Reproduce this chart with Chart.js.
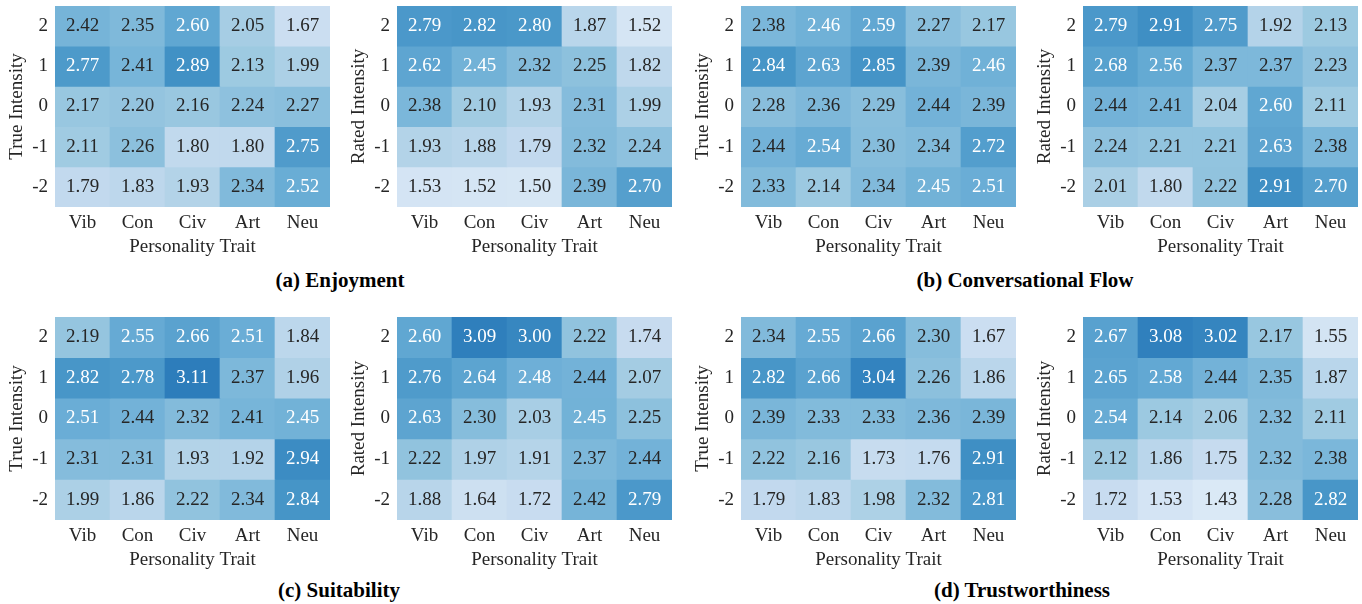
<!DOCTYPE html>
<html>
<head>
<meta charset="utf-8">
<script src="https://cdn.jsdelivr.net/npm/chart.js@4.4.1/dist/chart.umd.min.js"></script>
<style>
  html, body { margin: 0; padding: 0; background: #fff; }
  #fig { position: relative; width: 1362px; height: 604px; overflow: hidden; }
  #fig canvas { position: absolute; }
  .cap {
    position: absolute; height: 30px; line-height: 30px;
    font: bold 21px "Liberation Serif", "Times New Roman", serif;
    color: #000; white-space: nowrap; transform: translateX(-50%);
  }
</style>
</head>
<body>
<div id="fig"></div>
<script>
// Categories and row levels
const traits = ['Vib', 'Con', 'Civ', 'Art', 'Neu'];
const intensities = [2, 1, 0, -1, -2];

// Mean scores, one row per intensity level (2 .. -2), columns follow `traits`
const enjoymentTrue = [
  [2.42, 2.35, 2.60, 2.05, 1.67],
  [2.77, 2.41, 2.89, 2.13, 1.99],
  [2.17, 2.20, 2.16, 2.24, 2.27],
  [2.11, 2.26, 1.80, 1.80, 2.75],
  [1.79, 1.83, 1.93, 2.34, 2.52]
];
const enjoymentRated = [
  [2.79, 2.82, 2.80, 1.87, 1.52],
  [2.62, 2.45, 2.32, 2.25, 1.82],
  [2.38, 2.10, 1.93, 2.31, 1.99],
  [1.93, 1.88, 1.79, 2.32, 2.24],
  [1.53, 1.52, 1.50, 2.39, 2.70]
];
const flowTrue = [
  [2.38, 2.46, 2.59, 2.27, 2.17],
  [2.84, 2.63, 2.85, 2.39, 2.46],
  [2.28, 2.36, 2.29, 2.44, 2.39],
  [2.44, 2.54, 2.30, 2.34, 2.72],
  [2.33, 2.14, 2.34, 2.45, 2.51]
];
const flowRated = [
  [2.79, 2.91, 2.75, 1.92, 2.13],
  [2.68, 2.56, 2.37, 2.37, 2.23],
  [2.44, 2.41, 2.04, 2.60, 2.11],
  [2.24, 2.21, 2.21, 2.63, 2.38],
  [2.01, 1.80, 2.22, 2.91, 2.70]
];
const suitabilityTrue = [
  [2.19, 2.55, 2.66, 2.51, 1.84],
  [2.82, 2.78, 3.11, 2.37, 1.96],
  [2.51, 2.44, 2.32, 2.41, 2.45],
  [2.31, 2.31, 1.93, 1.92, 2.94],
  [1.99, 1.86, 2.22, 2.34, 2.84]
];
const suitabilityRated = [
  [2.60, 3.09, 3.00, 2.22, 1.74],
  [2.76, 2.64, 2.48, 2.44, 2.07],
  [2.63, 2.30, 2.03, 2.45, 2.25],
  [2.22, 1.97, 1.91, 2.37, 2.44],
  [1.88, 1.64, 1.72, 2.42, 2.79]
];
const trustTrue = [
  [2.34, 2.55, 2.66, 2.30, 1.67],
  [2.82, 2.66, 3.04, 2.26, 1.86],
  [2.39, 2.33, 2.33, 2.36, 2.39],
  [2.22, 2.16, 1.73, 1.76, 2.91],
  [1.79, 1.83, 1.98, 2.32, 2.81]
];
const trustRated = [
  [2.67, 3.08, 3.02, 2.17, 1.55],
  [2.65, 2.58, 2.44, 2.35, 1.87],
  [2.54, 2.14, 2.06, 2.32, 2.11],
  [2.12, 1.86, 1.75, 2.32, 2.38],
  [1.72, 1.53, 1.43, 2.28, 2.82]
];

// ---- styling ----
const FONT = '"Liberation Serif", "Times New Roman", serif';
const FONT_SIZE = 19;
const TEXT = '#262626';
const V_MIN = 1, V_MAX = 4;        // shared colour range for every panel
const WHITE_TEXT_MIN = 2.445;      // darker cells get white labels

// matplotlib "Blues" anchor colours
const BLUES = [
  [247, 251, 255], [222, 235, 247], [198, 219, 239], [158, 202, 225],
  [107, 174, 214], [66, 146, 198], [33, 113, 181], [8, 81, 156], [8, 48, 107]
];
function blues(v) {
  let t = (v - V_MIN) / (V_MAX - V_MIN);
  t = Math.max(0, Math.min(1, t));
  const p = t * (BLUES.length - 1);
  const i = Math.min(BLUES.length - 2, Math.floor(p));
  const f = p - i;
  const a = BLUES[i], b = BLUES[i + 1];
  const c = a.map((x, k) => Math.round(x + (b[k] - x) * f));
  return `rgb(${c[0]},${c[1]},${c[2]})`;
}

Chart.defaults.font.family = FONT;
Chart.defaults.font.size = FONT_SIZE;
Chart.defaults.color = TEXT;

// writes each cell's value in the middle of its rectangle
const cellLabels = {
  id: 'cellLabels',
  afterDatasetsDraw(chart) {
    const ctx = chart.ctx;
    ctx.save();
    ctx.font = `${FONT_SIZE}px ${FONT}`;
    ctx.textAlign = 'center';
    ctx.textBaseline = 'middle';
    chart.data.datasets.forEach((ds, i) => {
      const meta = chart.getDatasetMeta(i);
      meta.data.forEach((bar, j) => {
        const v = ds.values[j];
        const { x, y, base } = bar.getProps(['x', 'y', 'base'], true);
        ctx.fillStyle = v >= WHITE_TEXT_MIN ? '#ffffff' : TEXT;
        ctx.fillText(v.toFixed(2), x, (y + base) / 2);
      });
    });
    ctx.restore();
  }
};

// panel placement: plot-area left/top and height
const panels = [
  { values: enjoymentTrue,    yTitle: 'True Intensity',  left: 55,   top: 6,   h: 201 },
  { values: enjoymentRated,   yTitle: 'Rated Intensity', left: 397,  top: 6,   h: 201 },
  { values: flowTrue,         yTitle: 'True Intensity',  left: 741,  top: 6,   h: 201 },
  { values: flowRated,        yTitle: 'Rated Intensity', left: 1083, top: 6,   h: 201 },
  { values: suitabilityTrue,  yTitle: 'True Intensity',  left: 55,   top: 317, h: 203 },
  { values: suitabilityRated, yTitle: 'Rated Intensity', left: 397,  top: 317, h: 203 },
  { values: trustTrue,        yTitle: 'True Intensity',  left: 741,  top: 317, h: 203 },
  { values: trustRated,       yTitle: 'Rated Intensity', left: 1083, top: 317, h: 203 }
];
const PLOT_W = 275, Y_AXIS_W = 50, X_AXIS_H = 52;

const captions = [
  { text: '(a) Enjoyment',            cx: 340,  cy: 283 },
  { text: '(b) Conversational Flow',  cx: 1025, cy: 283 },
  { text: '(c) Suitability',          cx: 339,  cy: 593 },
  { text: '(d) Trustworthiness',      cx: 1022, cy: 593 }
];

const fig = document.getElementById('fig');

function zeroPadding(s) {
  s.paddingTop = 0; s.paddingBottom = 0; s.paddingLeft = 0; s.paddingRight = 0;
}

panels.forEach(p => {
  const canvas = document.createElement('canvas');
  const w = PLOT_W + Y_AXIS_W, h = p.h + X_AXIS_H;
  canvas.width = w; canvas.height = h;
  canvas.style.left = (p.left - Y_AXIS_W) + 'px';
  canvas.style.top = p.top + 'px';
  canvas.style.width = w + 'px';
  canvas.style.height = h + 'px';
  fig.appendChild(canvas);

  const datasets = intensities.map((r, i) => ({
    data: traits.map(() => [r - 0.5, r + 0.5]),
    values: p.values[i],
    backgroundColor: p.values[i].map(blues),
    borderWidth: 0,
    grouped: false,
    barPercentage: 1,
    categoryPercentage: 1
  }));

  new Chart(canvas, {
    type: 'bar',
    data: { labels: traits, datasets },
    options: {
      responsive: false,
      animation: false,
      events: [],
      layout: { padding: 0 },
      plugins: { legend: { display: false }, tooltip: { enabled: false }, title: { display: false } },
      scales: {
        x: {
          type: 'category',
          offset: true,
          grid: { display: false, drawTicks: false },
          border: { display: false },
          ticks: { padding: 5, maxRotation: 0, autoSkip: false, color: TEXT },
          title: { display: true, text: 'Personality Trait', color: TEXT, padding: { top: 0, bottom: 0.5 } },
          afterFit(s) { s.height = X_AXIS_H; zeroPadding(s); }
        },
        y: {
          type: 'linear',
          min: -2.5,
          max: 2.5,
          afterBuildTicks(s) {
            s.ticks = intensities.slice().sort((a, b) => a - b).map(v => ({ value: v }));
          },
          grid: { display: false, drawTicks: false },
          border: { display: false },
          ticks: { padding: 7, color: TEXT, callback: v => String(v) },
          title: { display: true, text: p.yTitle, color: TEXT, padding: { top: 1.1, bottom: 0 } },
          afterFit(s) { s.width = Y_AXIS_W; zeroPadding(s); }
        }
      }
    },
    plugins: [cellLabels]
  });
});

captions.forEach(c => {
  const d = document.createElement('div');
  d.className = 'cap';
  d.textContent = c.text;
  d.style.left = c.cx + 'px';
  d.style.top = (c.cy - 15) + 'px';
  fig.appendChild(d);
});
</script>
</body>
</html>
